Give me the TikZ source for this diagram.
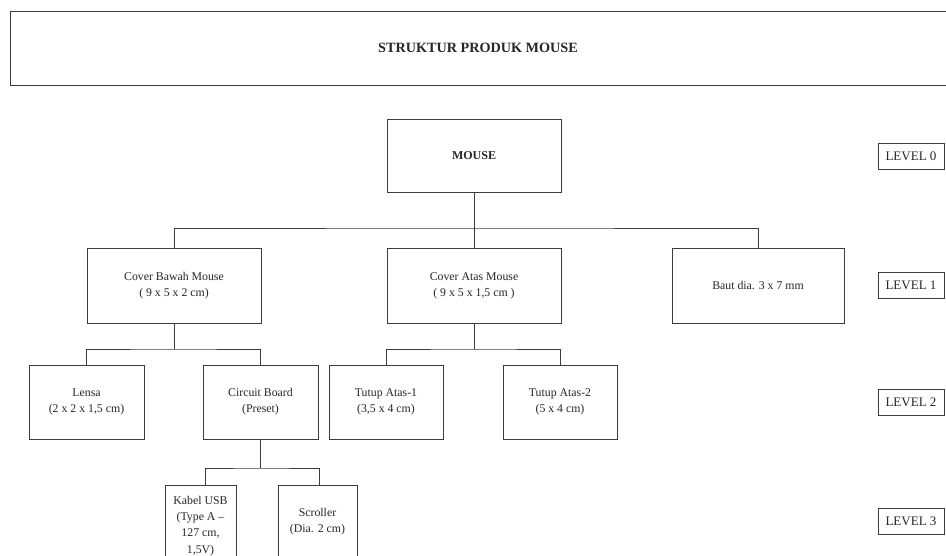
\documentclass[tikz,border=0pt]{standalone}
\usepackage{fontspec}
\setmainfont{Liberation Serif}
\usetikzlibrary{calc}
\definecolor{edge}{HTML}{3C3C3C}
\tikzset{
  x=1pt, y=-1pt,
  box/.style={draw=edge, line width=0.9pt, rectangle, inner sep=0pt, align=center,
    font=\fontsize{11.8}{16}\selectfont, text=black!85},
  lvl/.style={box, minimum width=66, minimum height=26, font=\fontsize{13}{15}\selectfont},
  wire/.style={draw=edge, line width=0.9pt}
}
\begin{document}
\begin{tikzpicture}
\clip (0,0) rectangle (946,556);
\fill[white] (0,0) rectangle (946,556);
% title
\node[box, minimum width=936, minimum height=74, font=\bfseries\fontsize{14.2}{16}\selectfont] (title) at (478,48) {STRUKTUR PRODUK MOUSE};
% level 0
\node[box, minimum width=174, minimum height=73, font=\bfseries\fontsize{12}{15}\selectfont] (mouse) at (474,155.5) {MOUSE};
% level 1
\node[box, minimum width=174, minimum height=75] (cb) at (174,285.5) {Cover Bawah Mouse\\( 9 x 5 x 2 cm)};
\node[box, minimum width=174, minimum height=75] (ca) at (474,285.5) {Cover Atas Mouse\\( 9 x 5 x 1,5 cm )};
\node[box, minimum width=172, minimum height=75] (baut) at (758,285.5) {Baut dia. 3 x 7 mm};
% level 2
\node[box, minimum width=115, minimum height=74] (lensa) at (86.5,402) {Lensa\\(2 x 2 x 1,5 cm)};
\node[box, minimum width=115, minimum height=74] (circ) at (260.5,402) {Circuit Board\\(Preset)};
\node[box, minimum width=114, minimum height=74] (t1) at (386,402) {Tutup Atas-1\\(3,5 x 4 cm)};
\node[box, minimum width=114, minimum height=74] (t2) at (560,402) {Tutup Atas-2\\(5 x 4 cm)};
% level 3
\node[box, minimum width=71, minimum height=77] (kabel) at (200.5,523.5) {};
\node[font=\fontsize{11.8}{16.3}\selectfont, align=center, text=black!85, inner sep=0pt] (kabeltxt) at (200.5,526) {Kabel USB\\(Type A --\\127 cm,\\1,5V)};
\node[box, minimum width=79, minimum height=77] (scroll) at (317.5,523.5) {};
\node[font=\fontsize{11.8}{16}\selectfont, align=center, text=black!85, inner sep=0pt] (scrolltxt) at (317.5,522) {Scroller\\(Dia. 2 cm)};
% levels
\node[lvl] (l0) at (911,156) {LEVEL 0};
\node[lvl] (l1) at (911,285) {LEVEL 1};
\node[lvl] (l2) at (911,402) {LEVEL 2};
\node[lvl] (l3) at (911,521.5) {LEVEL 3};
% connectors
\coordinate (b0) at (474,228);
\draw[wire] (mouse.south) -- (b0);
\draw[wire] (cb.north) |- (b0) -| (baut.north);
\draw[wire] (b0) -- (ca.north);
\coordinate (b1) at (174,349);
\draw[wire] (cb.south) -- (b1);
\draw[wire] (lensa.north) |- (b1) -| (circ.north);
\coordinate (b2) at (474,349);
\draw[wire] (ca.south) -- (b2);
\draw[wire] (t1.north) |- (b2) -| (t2.north);
\coordinate (b3) at (260.5,468);
\draw[wire] (circ.south) -- (b3);
\draw[wire] ($(kabel.north)+(4.5,0)$) |- (b3) -| ($(scroll.north)+(1.5,0)$);
\end{tikzpicture}
\end{document}
